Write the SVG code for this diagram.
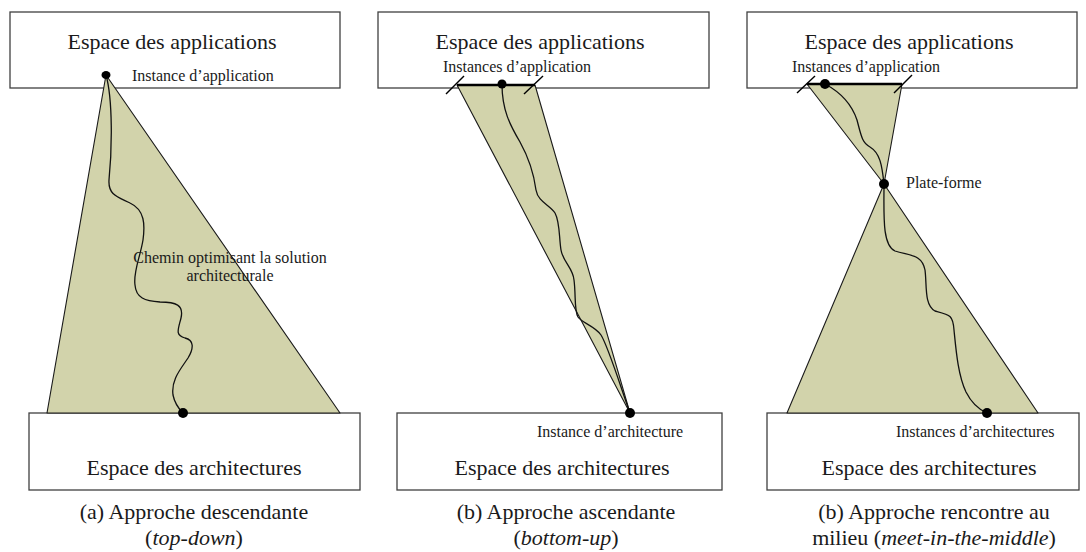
<svg xmlns="http://www.w3.org/2000/svg" width="1086" height="552" viewBox="0 0 1086 552">
<style>
text{font-family:"Liberation Serif","Times New Roman",serif;fill:#1a1a1a}
.box{fill:#fff;stroke:#404040;stroke-width:1.3}
.title{font-size:22px;text-anchor:middle}
.cap{font-size:22px;text-anchor:middle}
.lbl{font-size:16px}
.area{fill:#d2d3ab;stroke:#1a1a1a;stroke-width:1.1;stroke-linejoin:round}
.path{fill:none;stroke:#111;stroke-width:1.3}
.dot{fill:#000}
.bar{stroke:#000;stroke-width:2.6}
.tick{stroke:#000;stroke-width:1.4}
</style>
<g id="app-space-a"><rect class="box" x="10" y="12" width="330" height="76"/><text class="title" x="172" y="49">Espace des applications</text></g>
<g id="app-space-b"><rect class="box" x="378" y="12" width="331" height="76"/><text class="title" x="540" y="49">Espace des applications</text></g>
<g id="app-space-c"><rect class="box" x="747" y="12" width="330" height="76"/><text class="title" x="909" y="49">Espace des applications</text></g>
<g id="arch-space-a"><rect class="box" x="29" y="413" width="331" height="77"/><text class="title" x="194" y="475">Espace des architectures</text></g>
<g id="arch-space-b"><rect class="box" x="397" y="413" width="325" height="77"/><text class="title" x="562" y="475">Espace des architectures</text></g>
<g id="arch-space-c"><rect class="box" x="767" y="413" width="312" height="77"/><text class="title" x="929" y="475">Espace des architectures</text></g>
<g id="regions">
<polygon class="area" points="106,75 47,413 340,413"/>
<polygon class="area" points="457,85 535,85 630,413"/>
<polygon class="area" points="807,84 902,84 884,184"/>
<polygon class="area" points="884,184 787,413 1038,413"/>
</g>
<g id="connectors">
<path class="path" d="M106,75 C113,100 112,150 109,180 C108,195 118,197 130,203 C145,210 145,225 143,240 C140,258 133,272 135,285 C136,298 145,301 160,302 C176,302 184,305 181,318 C178,330 175,335 185,338 C194,340 194,348 188,358 C180,370 171,380 173,395 C175,405 180,410 183,413"/>
<path class="path" d="M502,84 C502,110 510,125 520,142 C530,160 534,175 536,190 C538,202 550,205 555,213 C560,222 559,238 561,250 C563,262 573,268 574,280 C576,295 574,310 578,317 C582,323 595,326 601,335 C608,346 620,385 630,413"/>
<path class="path" d="M825,84 C840,92 852,105 857,120 C861,135 862,143 870,147 C880,153 882,165 884,184"/>
<path class="path" d="M884,184 C884,215 882,245 895,251 C910,256 922,254 925,270 C927,285 924,305 935,311 C950,315 953,315 954,330 C956,350 958,375 966,392 C972,404 980,410 987,413"/>
</g>
<g id="app-instances-a"><ellipse class="dot" cx="106" cy="75" rx="4.5" ry="4"/><text class="lbl" x="132" y="81">Instance d’application</text></g>
<g id="app-instances-b"><line class="bar" x1="457" y1="85" x2="535" y2="85"/><line class="tick" x1="446" y1="94" x2="464" y2="76"/><line class="tick" x1="524" y1="94" x2="543" y2="76"/><circle class="dot" cx="502" cy="84" r="4.5"/><text class="lbl" x="443" y="72">Instances d’application</text></g>
<g id="app-instances-c"><line class="bar" x1="807" y1="84" x2="902" y2="84"/><line class="tick" x1="797" y1="93" x2="815" y2="76"/><line class="tick" x1="894" y1="93" x2="912" y2="75"/><circle class="dot" cx="825" cy="84" r="5"/><text class="lbl" x="792" y="72">Instances d’application</text></g>
<g id="platform"><circle class="dot" cx="884" cy="184" r="5"/><text class="lbl" x="906" y="188">Plate-forme</text></g>
<g id="arch-instance-a"><circle class="dot" cx="183" cy="413" r="5"/></g>
<g id="arch-instance-b"><circle class="dot" cx="630" cy="413" r="5"/><text class="lbl" x="537" y="437">Instance d’architecture</text></g>
<g id="arch-instance-c"><circle class="dot" cx="987" cy="413" r="5"/><text class="lbl" x="896" y="437">Instances d’architectures</text></g>
<g id="path-label"><text class="lbl" x="230" y="263" text-anchor="middle" font-size="16.5">Chemin optimisant la solution</text><text class="lbl" x="230" y="281" text-anchor="middle" font-size="16.5">architecturale</text></g>
<g id="captions">
<text class="cap" x="194" y="519">(a) Approche descendante</text>
<text class="cap" x="194" y="545">(<tspan font-style="italic">top-down</tspan>)</text>
<text class="cap" x="566" y="519">(b) Approche ascendante</text>
<text class="cap" x="566" y="545">(<tspan font-style="italic">bottom-up</tspan>)</text>
<text class="cap" x="934" y="519">(b) Approche rencontre au</text>
<text class="cap" x="934" y="545">milieu (<tspan font-style="italic">meet-in-the-middle</tspan>)</text>
</g>
</svg>
